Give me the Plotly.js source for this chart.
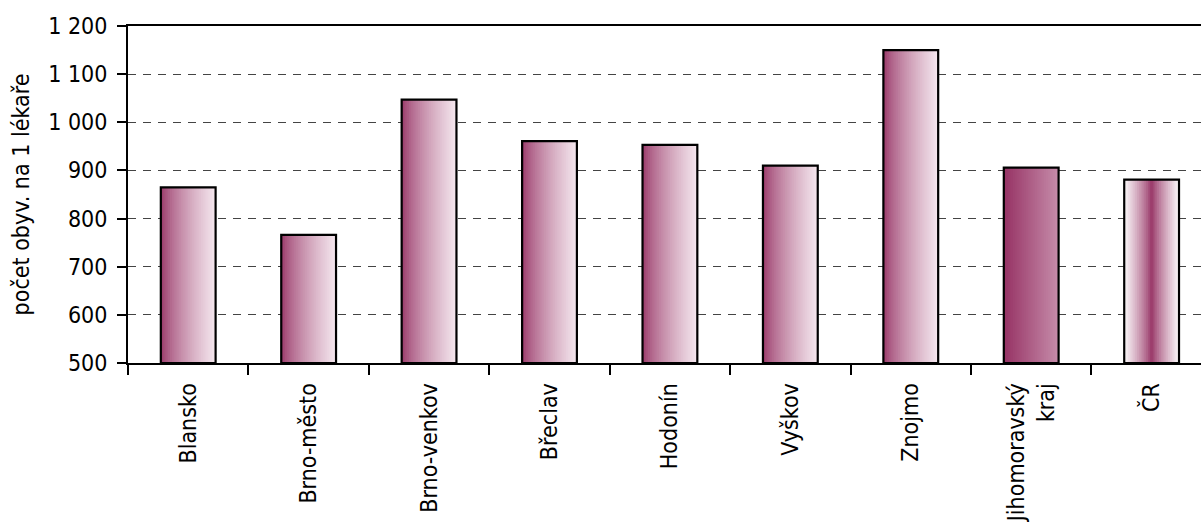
<!DOCTYPE html>
<html>
<head>
<meta charset="utf-8">
<script src="https://cdn.plot.ly/plotly-3.0.1.min.js"></script>
<style>html,body{margin:0;padding:0;background:#fff;}#chart{width:1201px;height:522px;}</style>
</head>
<body>
<div id="chart"></div>
<script>
// ---- data ----
const categories = ["Blansko", "Brno-město", "Brno-venkov", "Břeclav", "Hodonín", "Vyškov", "Znojmo", "Jihomoravský<br>kraj", "ČR"];
const values = [865, 766, 1047, 961, 953, 910, 1150, 906, 881];
const fillKinds = ["fade", "fade", "fade", "fade", "fade", "fade", "fade", "half", "center"];
const yTicks = [500, 600, 700, 800, 900, 1000, 1100, 1200];
const yTickLabels = ["500", "600", "700", "800", "900", "1 000", "1 100", "1 200"];
const yTitle = "počet obyv. na 1 lékaře";
const BASE = 500;

// ---- gradient styling ----
const DARK = [150, 50, 100];
function mix(a, b, t) { return a.map((v, i) => Math.round(v + (b[i] - v) * t)); }
function colorAt(kind, t) {
  let c;
  if (kind === "fade") c = mix(DARK, [245, 232, 239], Math.pow(t, 0.7));
  else if (kind === "half") c = mix(DARK, [198, 140, 170], t);
  else { const d = Math.abs(t - 0.5) * 2; c = mix(DARK, [252, 250, 251], Math.pow(d, 0.8)); }
  return "rgb(" + c.join(",") + ")";
}
const heights = values.map(v => v - BASE);
const BAR_W = 0.455;
const N = 30;
const traces = [];
for (let k = 0; k < N; k++) {
  const t = (k + 0.5) / N;
  traces.push({
    type: "bar", x: categories, y: heights, base: BASE,
    offset: -BAR_W / 2 + k * BAR_W / N,
    width: (k === N - 1 ? 1 : 1.6) * BAR_W / N,
    marker: { color: fillKinds.map(kd => colorAt(kd, t)), line: { width: 0 } },
    hoverinfo: "skip", showlegend: false
  });
}
traces.push({
  type: "bar", x: categories, y: heights, base: BASE,
  offset: -BAR_W / 2, width: BAR_W,
  marker: { color: "rgba(0,0,0,0)", line: { color: "#000", width: 2.2 } },
  showlegend: false
});

const font = { family: "DejaVu Sans Condensed, Liberation Sans Narrow, sans-serif", size: 23, color: "#000" };
const layout = {
  width: 1201, height: 522,
  margin: { l: 128, r: 0, t: 26, b: 159 },
  paper_bgcolor: "#fff", plot_bgcolor: "#fff",
  barmode: "overlay",
  font: font,
  xaxis: {
    type: "category", range: [-0.5, 8.41], tickangle: -90, ticks: "outside", tickson: "boundaries",
    ticklen: 10, tickwidth: 2, tickcolor: "#000", ticklabelstandoff: 9,
    showline: true, linewidth: 2, linecolor: "#000", mirror: true,
    showgrid: false, tickfont: font, fixedrange: true
  },
  yaxis: {
    range: [500, 1200], tickvals: yTicks, ticktext: yTickLabels,
    ticks: "outside", ticklen: 9, tickwidth: 2, tickcolor: "#000", ticklabelstandoff: 5,
    showline: true, linewidth: 2, linecolor: "#000", mirror: false,
    showgrid: true, gridcolor: "#444", gridwidth: 1, griddash: "8px,7px",
    zeroline: false, tickfont: font,
    title: { text: yTitle, font: { family: font.family, size: 23, color: "#000" }, standoff: 12 }
  }
};
Plotly.newPlot("chart", traces, layout, { displayModeBar: false, staticPlot: true });
</script>
</body>
</html>
